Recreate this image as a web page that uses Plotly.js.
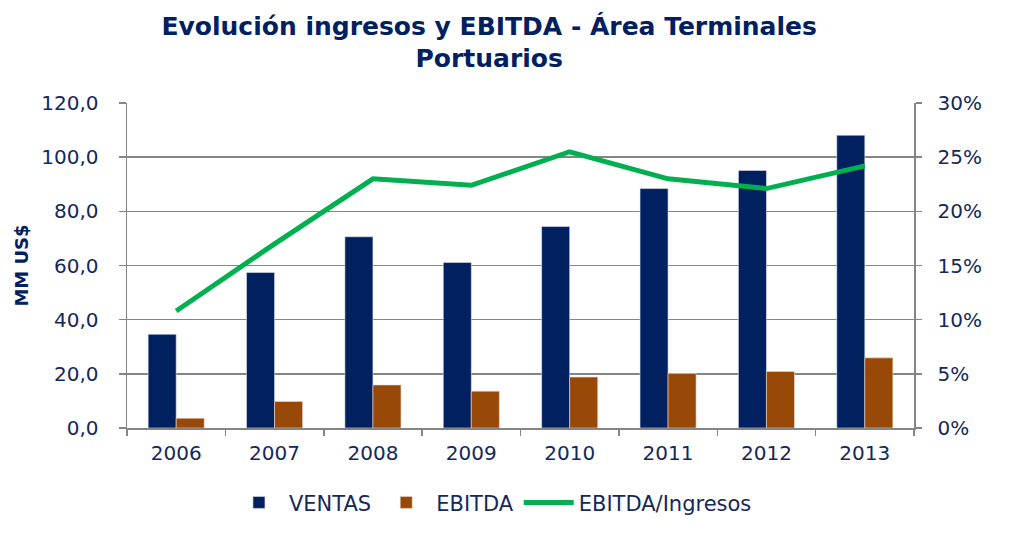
<!DOCTYPE html>
<html>
<head>
<meta charset="utf-8">
<script src="https://cdn.plot.ly/plotly-3.0.1.min.js"></script>
<style>html,body{margin:0;padding:0;background:#fff;}#chart{width:1017px;height:558px;}</style>
</head>
<body>
<div id="chart"></div>
<script>
const years = ["2006","2007","2008","2009","2010","2011","2012","2013"];
const ventas = [34.6, 57.4, 70.6, 61.1, 74.4, 88.4, 95.1, 108.1];
const ebitda = [3.6, 9.8, 15.9, 13.6, 18.8, 20.1, 20.9, 25.9];
const margen = [0.108, 0.170, 0.230, 0.224, 0.255, 0.230, 0.221, 0.242];

const navy = "#14285a";
const fontFam = "DejaVu Sans, Verdana, sans-serif";
const gridC = "#858585";

const traces = [
  {type:"bar", name:"VENTAS", x:years, y:ventas, marker:{color:"#002060", line:{color:"#dfe3ee", width:0.6}}},
  {type:"bar", name:"EBITDA", x:years, y:ebitda, marker:{color:"#984807", line:{color:"#f0dccb", width:0.6}}},
  {type:"scatter", mode:"lines", name:"EBITDA/Ingresos", x:years, y:margen, yaxis:"y2",
   line:{color:"#00B050", width:5}}
];

const layout = {
  width:1017, height:558,
  separators:",.",
  paper_bgcolor:"#fff", plot_bgcolor:"#fff",
  margin:{l:127, r:103, t:103, b:130},
  title:{text:"<b>Evolución ingresos y EBITDA - Área Terminales<br>Portuarios</b>",
         font:{family:fontFam, size:25, color:"#002060"}, x:0.481, xanchor:"center", y:0.9375, yanchor:"top"},
  barmode:"group", bargap:0.43, bargroupgap:0,
  font:{family:fontFam, color:navy, size:20},
  xaxis:{type:"category", showline:true, linecolor:gridC, linewidth:1.5,
         ticks:"outside", tickson:"boundaries", ticklen:6, tickcolor:gridC, tickwidth:1.5,
         ticklabelstandoff:6,
         tickfont:{family:fontFam, size:20, color:navy}, showgrid:false},
  yaxis:{range:[0,120], dtick:20, tickformat:".1f", showline:true, linecolor:gridC, linewidth:1.5,
         ticks:"outside", ticklen:7, tickcolor:gridC, tickwidth:1.5, ticklabelstandoff:16,
         gridcolor:gridC, gridwidth:1.6, zeroline:false,
         tickfont:{family:fontFam, size:20, color:navy},
         title:{text:"<b>MM US$</b>", font:{family:fontFam, size:18, color:"#002060"}, standoff:8}},
  yaxis2:{range:[0,0.30], dtick:0.05, tickformat:".0%", overlaying:"y", side:"right",
          showline:true, linecolor:gridC, linewidth:1.5, ticks:"outside", ticklen:6,
          tickcolor:gridC, tickwidth:1.5, ticklabelstandoff:12, showgrid:false, zeroline:false,
          tickfont:{family:fontFam, size:20, color:navy}},
  legend:{orientation:"h", x:0.465, xanchor:"center", y:-0.23, yanchor:"middle",
          font:{family:fontFam, size:21, color:navy}, itemwidth:50},
  showlegend:true
};

Plotly.newPlot("chart", traces, layout, {displayModeBar:false, staticPlot:true});
</script>
</body>
</html>
